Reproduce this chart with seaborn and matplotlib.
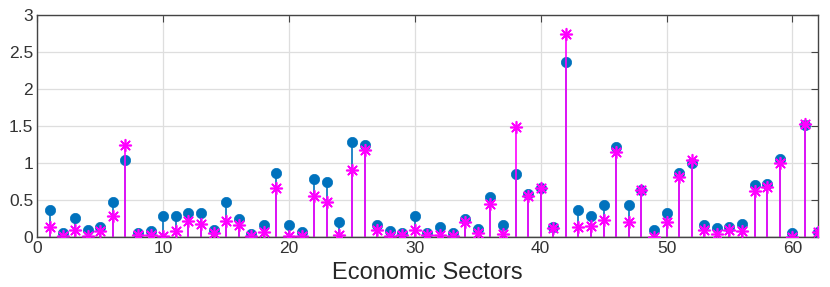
import numpy as np
import pandas as pd
import matplotlib
matplotlib.use("Agg")
import matplotlib.pyplot as plt
import seaborn as sns

# sector index 1..62
sectors = list(range(1, 63))

# blue circles
series_a = [0.37, 0.05, 0.26, 0.10, 0.14, 0.48, 1.04, 0.06, 0.08, 0.29,
            0.29, 0.33, 0.33, 0.10, 0.47, 0.24, 0.04, 0.16, 0.87, 0.16,
            0.07, 0.79, 0.75, 0.20, 1.29, 1.24, 0.16, 0.08, 0.05, 0.28,
            0.05, 0.14, 0.06, 0.24, 0.11, 0.54, 0.16, 0.85, 0.58, 0.66,
            0.14, 2.36, 0.37, 0.28, 0.43, 1.21, 0.43, 0.63, 0.10, 0.33,
            0.87, 1.00, 0.16, 0.12, 0.14, 0.18, 0.70, 0.72, 1.05, 0.06,
            1.52, 0.07]

# magenta asterisks
series_b = [0.14, 0.01, 0.10, 0.01, 0.08, 0.28, 1.25, 0.03, 0.03, 0.02,
            0.08, 0.22, 0.18, 0.05, 0.22, 0.16, 0.02, 0.07, 0.66, 0.02,
            0.01, 0.55, 0.48, 0.03, 0.91, 1.18, 0.09, 0.01, 0.03, 0.10,
            0.03, 0.03, 0.01, 0.21, 0.05, 0.44, 0.04, 1.48, 0.55, 0.66,
            0.12, 2.74, 0.13, 0.15, 0.23, 1.15, 0.20, 0.63, 0.00, 0.20,
            0.81, 1.04, 0.09, 0.04, 0.09, 0.08, 0.62, 0.67, 1.00, 0.00,
            1.53, 0.07]

x_ticks = [0, 10, 20, 30, 40, 50, 60]
y_ticks = [0, 0.5, 1, 1.5, 2, 2.5, 3]
y_tick_labels = ["0", "0.5", "1", "1.5", "2", "2.5", "3"]

BLUE = "#0072BD"
MAGENTA = "#FF00FF"

df = pd.DataFrame({"sector": sectors, "a": series_a, "b": series_b})

sns.set_style("whitegrid")
plt.rcParams["font.family"] = ["Liberation Sans", "DejaVu Sans"]

fig = plt.figure(figsize=(8.3, 2.87), dpi=100)
ax = fig.add_axes([0.045, 0.174, 0.94, 0.774])

# stems, blue first then magenta on top
ax.vlines(df["sector"], 0, df["a"], color=BLUE, linewidth=1.2, zorder=2)
sns.scatterplot(data=df, x="sector", y="a", ax=ax, color=BLUE, s=55,
                edgecolor=BLUE, linewidth=0.5, zorder=3)
ax.vlines(df["sector"], 0, df["b"], color=MAGENTA, linewidth=1.2, zorder=4)
sns.scatterplot(data=df, x="sector", y="b", ax=ax, color=MAGENTA,
                marker=(8, 2, 0), s=70, edgecolor=MAGENTA, linewidth=1.2,
                zorder=5)
ax.axhline(0, color="#555555", linewidth=1.0, zorder=6)

ax.set_xlim(0, 62)
ax.set_ylim(0, 3)
ax.set_xticks(x_ticks)
ax.set_yticks(y_ticks)
ax.set_yticklabels(y_tick_labels)
ax.set_xlabel("Economic Sectors", fontsize=17, color="#262626", labelpad=4)
ax.set_ylabel("")

ax.grid(True, color="#dedede", linewidth=0.9)
for sp in ax.spines.values():
    sp.set_visible(True)
    sp.set_color("#444444")
    sp.set_linewidth(1.0)
ax.tick_params(axis="both", which="both", direction="in", length=5,
               top=True, right=True, labelsize=12.5, colors="#444444",
               labelcolor="#333333", pad=3)

fig.savefig("out.png", dpi=100)
